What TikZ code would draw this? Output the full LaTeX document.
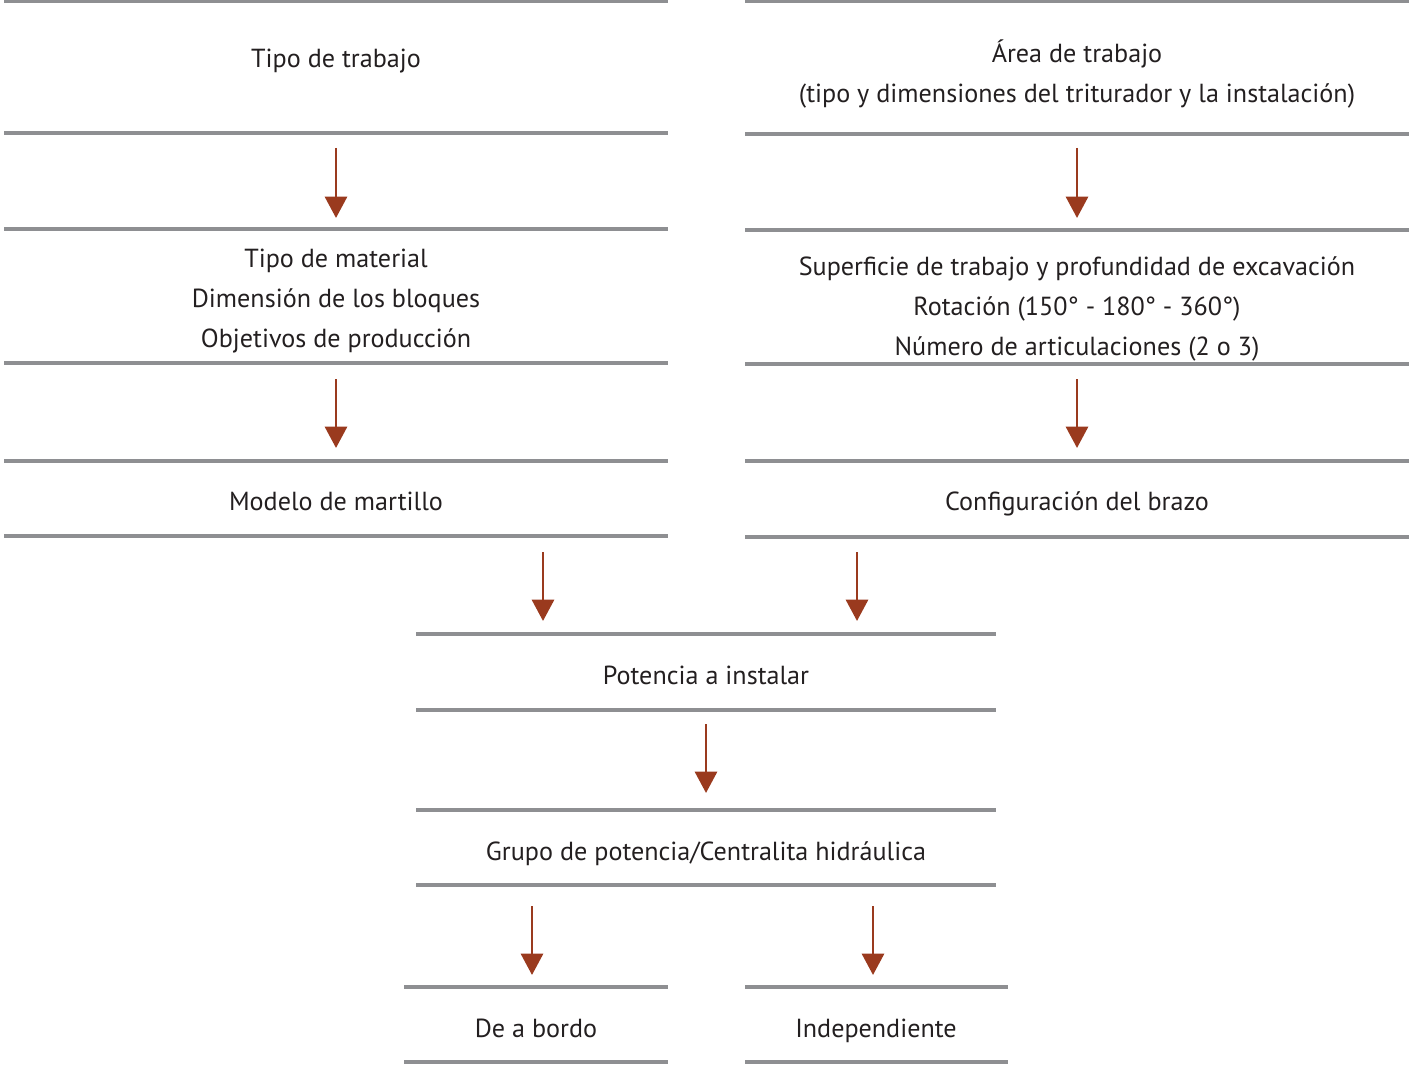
\documentclass[tikz,border=0pt]{standalone}
\usepackage{fontspec}
\setmainfont{PT Sans}
\usetikzlibrary{arrows.meta}
\definecolor{rule}{HTML}{8E8F92}
\definecolor{arr}{HTML}{9A3A1E}
\definecolor{txt}{HTML}{231F20}
\begin{document}
\begin{tikzpicture}[x=0.75pt,y=-0.75pt,
  hline/.style={draw=rule,line width=2.4pt},
  lbl/.style={font=\fontsize{19.6pt}{30pt}\selectfont,text=txt,align=center,inner sep=0pt,anchor=base},
  flow/.style={draw=arr,line width=2.2pt,-{Triangle[width=16.5pt,length=16pt]}}]
\useasboundingbox (0,0) rectangle (1412,1070);
% rules
\foreach \y in {1,133,229,363,461,536}{\draw[hline] (4,\y) -- (668,\y);}
\foreach \y in {1,134,230,364,461,537}{\draw[hline] (745,\y) -- (1409,\y);}
\foreach \y in {634,710,810,885}{\draw[hline] (416,\y) -- (996,\y);}
\foreach \y in {987,1062}{\draw[hline] (404,\y) -- (668,\y); \draw[hline] (745,\y) -- (1008,\y);}
% texts (base anchor = baseline of last line)
\node[lbl] (tt) at (336,68) {Tipo de trabajo};
\node[lbl] (at) at (1077,103) {Área de trabajo\\(tipo y dimensiones del triturador y la instalación)};
\node[lbl] (tm) at (336,347) {Tipo de material\\Dimensión de los bloques\\Objetivos de producción};
\node[lbl] (sp) at (1077,355) {Superficie de trabajo y profundidad de excavación\\Rotación (150° - 180° - 360°)\\Número de articulaciones (2 o 3)};
\node[lbl] (mm) at (336,510) {Modelo de martillo};
\node[lbl] (cb) at (1077,510) {Configuración del brazo};
\node[lbl] (pi) at (706,684) {Potencia a instalar};
\node[lbl] (gp) at (706,860) {Grupo de potencia/Centralita hidráulica};
\node[lbl] (db) at (536,1037) {De a bordo};
\node[lbl] (in) at (876,1037) {Independiente};
% arrow endpoints
\coordinate (a1s) at (336,148); \coordinate (a1e) at (336,218);
\coordinate (a2s) at (1077,148); \coordinate (a2e) at (1077,218);
\coordinate (a3s) at (336,379); \coordinate (a3e) at (336,448);
\coordinate (a4s) at (1077,379); \coordinate (a4e) at (1077,448);
\coordinate (a5s) at (543,552); \coordinate (a5e) at (543,621);
\coordinate (a6s) at (857,552); \coordinate (a6e) at (857,621);
\coordinate (a7s) at (706,724); \coordinate (a7e) at (706,793);
\coordinate (a8s) at (532,906); \coordinate (a8e) at (532,975);
\coordinate (a9s) at (873,906); \coordinate (a9e) at (873,975);
\foreach \i in {1,...,9}{\draw[flow] (a\i s) -- (a\i e);}
\end{tikzpicture}
\end{document}
